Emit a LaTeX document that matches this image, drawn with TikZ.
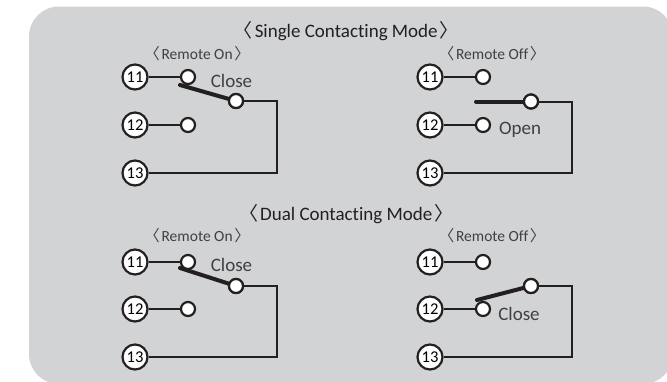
\documentclass[tikz,border=0pt]{standalone}
\usepackage{fontspec}
\setmainfont[Ligatures=NoCommon]{Carlito}
\newfontfamily\cjk{Noto Sans CJK KR}
\newcommand{\lbr}{{\cjk\hspace{-0.5em}〈\hspace{-0.12em}}}
\newcommand{\rbr}{{\cjk\hspace{-0.12em}〉\hspace{-0.5em}}}
\begin{document}
\begin{tikzpicture}[x=1pt,y=-1pt,
 term/.style={circle,draw=ink,line width=2.2pt,fill=white,minimum size=25pt,inner sep=0pt,font=\fontsize{16.5}{18}\selectfont},
 contact/.style={circle,draw=ink,line width=2.2pt,fill=white,minimum size=14pt,inner sep=0pt},
 wire/.style={draw=ink,line width=2pt},
 blade/.style={draw=ink,line width=4pt,line cap=round},
 title/.style={font=\fontsize{19}{20}\selectfont,text=ink},
 sub/.style={font=\fontsize{15.5}{18}\selectfont,text=black!75},
 stat/.style={font=\fontsize{19}{20}\selectfont,text=black!75}]
\definecolor{ink}{HTML}{231F20}
\definecolor{panel}{HTML}{D1D3D4}
\useasboundingbox (0,0) rectangle (667,381);
\begin{scope}
\clip (0,0) rectangle (667,381);
\fill[panel,rounded corners=30pt] (29,6.5) rectangle (673,384);
\end{scope}
\node[title] (t1) at (351,31) {\lbr\ Single Contacting Mode \rbr};
\node[title] (t2) at (351,214) {\lbr\ Dual Contacting Mode \rbr};
\node[sub] (s1) at (201,53.5) {\lbr\ Remote On \rbr};
\node[sub] (s2) at (496,53.5) {\lbr\ Remote Off \rbr};
\node[sub] (s3) at (201,235.5) {\lbr\ Remote On \rbr};
\node[sub] (s4) at (496,235.5) {\lbr\ Remote Off \rbr};
% top-left
\coordinate (ab) at (180,85);
\coordinate (ac) at (277,101);
\coordinate (ad) at (277,173);
\node[term] (a11) at (135,77) {11};
\node[term] (a12) at (135,125) {12};
\node[term] (a13) at (135,173) {13};
\node[contact] (a1) at (188,77) {};
\node[contact] (a2) at (188,125) {};
\node[contact] (a3) at (236,101) {};
\draw[wire] (a11) -- (a1);
\draw[wire] (a12) -- (a2);
\draw[wire] (a3) -- (ac) -- (ad) -- (a13);
\draw[blade] (ab) -- (a3);
\node[contact] at (a3) {};
\node[stat] (al) at (231.5,80.5) {Close};
% top-right
\coordinate (bb) at (476,101.5);
\coordinate (bc) at (572,101.5);
\coordinate (bd) at (572,173);
\node[term] (b11) at (430,77) {11};
\node[term] (b12) at (430,125) {12};
\node[term] (b13) at (430,173) {13};
\node[contact] (b1) at (483,77) {};
\node[contact] (b2) at (483,125) {};
\node[contact] (b3) at (531,101.5) {};
\draw[wire] (b11) -- (b1);
\draw[wire] (b12) -- (b2);
\draw[wire] (b3) -- (bc) -- (bd) -- (b13);
\draw[blade] (bb) -- (b3);
\node[contact] at (b3) {};
\node[stat] (bl) at (520,130) {Open};
% bottom-left
\coordinate (cb) at (180,268);
\coordinate (cc) at (277,286);
\coordinate (cd) at (277,357);
\node[term] (c11) at (135,262) {11};
\node[term] (c12) at (135,309) {12};
\node[term] (c13) at (135,357) {13};
\node[contact] (c1) at (188,262) {};
\node[contact] (c2) at (188,309) {};
\node[contact] (c3) at (236,286) {};
\draw[wire] (c11) -- (c1);
\draw[wire] (c12) -- (c2);
\draw[wire] (c3) -- (cc) -- (cd) -- (c13);
\draw[blade] (cb) -- (c3);
\node[contact] at (c3) {};
\node[stat] (cl) at (231.5,264.5) {Close};
% bottom-right
\coordinate (db) at (477,300);
\coordinate (dc) at (572,286);
\coordinate (dd) at (572,357);
\node[term] (d11) at (430,262) {11};
\node[term] (d12) at (430,309) {12};
\node[term] (d13) at (430,357) {13};
\node[contact] (d1) at (483,262) {};
\node[contact] (d2) at (483,309) {};
\node[contact] (d3) at (531,286) {};
\draw[wire] (d11) -- (d1);
\draw[wire] (d12) -- (d2);
\draw[wire] (d3) -- (dc) -- (dd) -- (d13);
\draw[blade] (db) -- (d3);
\node[contact] at (d3) {};
\node[stat] (dl) at (519,313.5) {Close};
\end{tikzpicture}
\end{document}
